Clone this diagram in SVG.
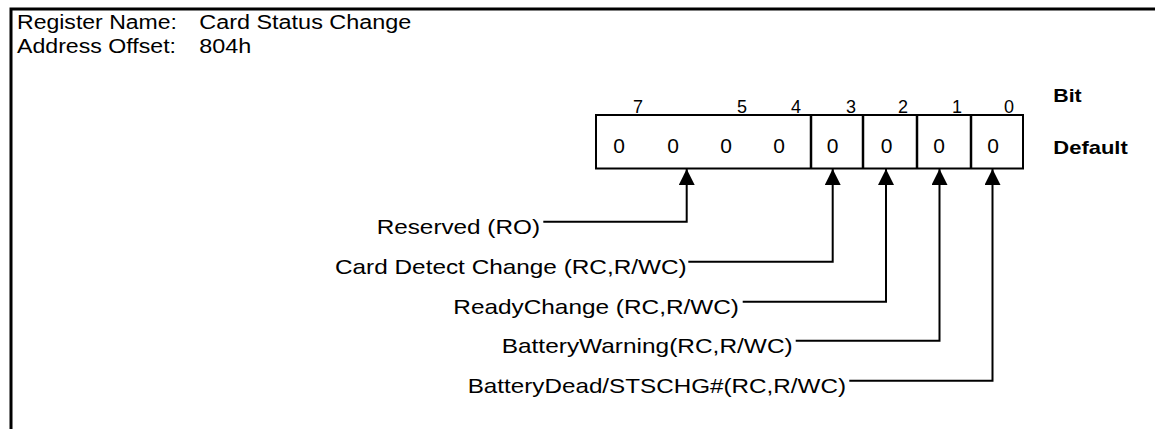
<svg xmlns="http://www.w3.org/2000/svg" width="1155" height="429" viewBox="0 0 1155 429">
<style>
  .t { font-family: "Liberation Sans", Arial, sans-serif; font-size: 21px; fill: #000; }
  .h { font-family: "Liberation Sans", Arial, sans-serif; font-size: 20px; fill: #000; }
  .d { font-family: "Liberation Sans", Arial, sans-serif; font-size: 21px; fill: #000; text-anchor: middle; }
  .n { font-family: "Liberation Sans", Arial, sans-serif; font-size: 18px; fill: #000; text-anchor: middle; }
  .b { font-family: "Liberation Sans", Arial, sans-serif; font-size: 19px; font-weight: bold; fill: #000; }
  .box { fill: none; stroke: #000; stroke-width: 2; }
  .div { stroke: #000; stroke-width: 2.5; }
  .conn { fill: none; stroke: #000; stroke-width: 2; }
</style>
<defs>
  <marker id="arrow" viewBox="0 0 16 16" refX="16" refY="8" markerWidth="16" markerHeight="16" markerUnits="userSpaceOnUse" orient="auto">
    <path d="M0,0 L16,8 L0,16 z" fill="#000"/>
  </marker>
</defs>
<rect width="1155" height="429" fill="#fff"/>
<g id="frame">
  <path d="M11,429 V9 H1155" fill="none" stroke="#000" stroke-width="3"/>
</g>
<g id="header">
  <text class="h" x="17" y="29.3" textLength="160" lengthAdjust="spacingAndGlyphs">Register Name:</text>
  <text class="h" x="199.3" y="29.3" textLength="212" lengthAdjust="spacingAndGlyphs">Card Status Change</text>
  <text class="h" x="17" y="53.3" textLength="159" lengthAdjust="spacingAndGlyphs">Address Offset:</text>
  <text class="h" x="199.3" y="53.3" textLength="52" lengthAdjust="spacingAndGlyphs">804h</text>
</g>
<g id="register">
  <rect class="box" x="596" y="115" width="427" height="53.5"/>
  <line class="div" x1="811" y1="115" x2="811" y2="168.5"/>
  <line class="div" x1="863" y1="115" x2="863" y2="168.5"/>
  <line class="div" x1="917" y1="115" x2="917" y2="168.5"/>
  <line class="div" x1="971" y1="115" x2="971" y2="168.5"/>
</g>
<g id="bit-numbers">
  <text class="n" x="638" y="112.5">7</text>
  <text class="n" x="742" y="112.5">5</text>
  <text class="n" x="796" y="112.5">4</text>
  <text class="n" x="851" y="112.5">3</text>
  <text class="n" x="903" y="112.5">2</text>
  <text class="n" x="957" y="112.5">1</text>
  <text class="n" x="1009" y="112.5">0</text>
  <text class="b" x="1053.3" y="101.7" textLength="28.4" lengthAdjust="spacingAndGlyphs">Bit</text>
</g>
<g id="defaults">
  <text class="d" x="619" y="153.3">0</text>
  <text class="d" x="673" y="153.3">0</text>
  <text class="d" x="726" y="153.3">0</text>
  <text class="d" x="779" y="153.3">0</text>
  <text class="d" x="832.5" y="153.3">0</text>
  <text class="d" x="886.5" y="153.3">0</text>
  <text class="d" x="939" y="153.3">0</text>
  <text class="d" x="993" y="153.3">0</text>
  <text class="b" x="1053.3" y="154" textLength="74.5" lengthAdjust="spacingAndGlyphs">Default</text>
</g>
<g id="connectors">
  <path class="conn" d="M543.3,221.7 H686.7 V169" marker-end="url(#arrow)"/>
  <path class="conn" d="M688.3,261.7 H832.7 V169" marker-end="url(#arrow)"/>
  <path class="conn" d="M742.7,301.7 H886 V169" marker-end="url(#arrow)"/>
  <path class="conn" d="M795.7,340.7 H939.5 V169" marker-end="url(#arrow)"/>
  <path class="conn" d="M849.3,380.7 H992.5 V169" marker-end="url(#arrow)"/>
</g>
<g id="label-reserved">
  <text class="t" x="376.7" y="233.7" textLength="163.3" lengthAdjust="spacingAndGlyphs">Reserved (RO)</text>
</g>
<g id="label-card-detect">
  <text class="t" x="335" y="273.7" textLength="351.7" lengthAdjust="spacingAndGlyphs">Card Detect Change (RC,R/WC)</text>
</g>
<g id="label-ready">
  <text class="t" x="453.3" y="313.7" textLength="285.7" lengthAdjust="spacingAndGlyphs">ReadyChange (RC,R/WC)</text>
</g>
<g id="label-battery-warning">
  <text class="t" x="501.7" y="352.7" textLength="291" lengthAdjust="spacingAndGlyphs">BatteryWarning(RC,R/WC)</text>
</g>
<g id="label-battery-dead">
  <text class="t" x="467.7" y="392.7" textLength="378.3" lengthAdjust="spacingAndGlyphs">BatteryDead/STSCHG#(RC,R/WC)</text>
</g>
</svg>
